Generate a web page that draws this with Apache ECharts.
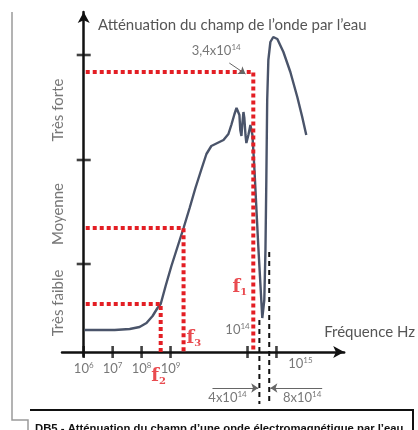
<!DOCTYPE html>
<html>
<head>
<meta charset="utf-8">
<script src="https://cdn.jsdelivr.net/npm/echarts@6/dist/echarts.min.js"></script>
<style>
  html, body { margin: 0; padding: 0; background: #fff; }
  #chart { width: 418px; height: 430px; }
</style>
</head>
<body>
<div id="chart"></div>
<script>
// axe des fréquences coupé : position en décades depuis 10^6 (10^9 -> 10^14 raccourci)
const tickValues = [0, 1, 2, 3, 5.66, 6.66];
const tickExponents = [6, 7, 8, 9, 14, 15];

// niveaux d'atténuation (unité arbitraire, 0 = axe des fréquences)
const levelTicks = [88, 192, 297];
const levelNames = ['Très faible', 'Moyenne', 'Très forte'];
const levelCenters = [49, 138, 242];

const freqPos = [0.03, 0.55, 1.07, 1.59, 1.93, 2.17, 2.38, 2.55, 2.66, 2.83, 3.03, 3.24, 3.45, 3.66, 3.86,
  4.07, 4.24, 4.41, 4.62, 4.83, 5.00, 5.10, 5.21, 5.28, 5.34, 5.38, 5.41, 5.45, 5.48, 5.52, 5.55, 5.59,
  5.62, 5.69, 5.76, 5.83, 5.90, 6.03, 6.17, 6.24, 6.28, 6.31, 6.34, 6.38, 6.45, 6.55, 6.69, 6.90, 7.14,
  7.38, 7.55, 7.69];
const attenuation = [22, 22, 22, 23, 25, 29, 36, 44, 48, 66, 86, 105, 124, 144, 164,
  183, 198, 206, 209, 212, 218, 227, 238, 244, 244, 237, 222, 216, 228, 240, 234, 217,
  209, 217, 227, 217, 182, 107, 34, 52, 102, 172, 252, 292, 310, 315, 313, 300, 280,
  255, 235, 217];

// fréquences repérées f2, f3, f1 et niveau correspondant
const guideNames = ['2', '3', '1'];
const guidePos = [2.66, 3.45, 5.86];
const guideLevel = [48, 124, 280];

// limites de la bande 4x10^14 - 8x10^14
const bandPos = [6.07, 6.41];
const bandTop = [32, 100];
const bandLabels = ['4', '8'];

const gray = '#555';
const red = '#e31e24';
const rich = {
  b: { fontSize: 13, color: gray, fontFamily: 'Lato', lineHeight: 16 },
  s: { fontSize: 8, color: gray, fontFamily: 'Lato', verticalAlign: 'top', lineHeight: 10 },
  f: { fontSize: 18, color: red, fontFamily: 'DejaVu Serif', fontWeight: 'bold', lineHeight: 20 },
  i: { fontSize: 10, color: red, fontFamily: 'DejaVu Serif', fontWeight: 'bold', verticalAlign: 'bottom', lineHeight: 12 }
};

const chart = echarts.init(document.getElementById('chart'));

const guides = guidePos.map((p, i) => ({
  type: 'line', z: 5, symbol: 'none', silent: true, clip: false,
  data: [[0.07, guideLevel[i]], [p, guideLevel[i]], [p, 0]],
  lineStyle: { color: red, width: 4, type: [4, 3], cap: 'butt' }
}));

const bands = bandPos.map((p, i) => ({
  type: 'line', z: 4, symbol: 'none', silent: true, clip: false,
  data: [[p, bandTop[i]], [p, -52]],
  lineStyle: { color: '#111', width: 2, type: [5, 4] }
}));

// étiquettes des graduations
const tickLabelData = tickValues.map((v, i) => {
  let label = { position: 'bottom', distance: 9 };
  if (tickExponents[i] === 14) label = { position: 'top', distance: 14, offset: [-10, 0] };
  if (tickExponents[i] === 15) label = { position: 'bottom', distance: 4, offset: [24, 0] };
  return { value: [v, 0], tag: '{b|10}{s|' + tickExponents[i] + '}', label: label };
});

// étiquettes f1 f2 f3
const guideLabelData = guidePos.map((p, i) => {
  let label = { position: 'bottom', distance: 14, offset: [-2, 0] };
  let v = 0;
  if (guideNames[i] === '3') { label = { position: 'right', distance: 3 }; v = 14; }
  if (guideNames[i] === '1') { label = { position: 'left', distance: 6 }; v = 65; }
  return { value: [p, v], tag: '{f|f}{i|' + guideNames[i] + '}', label: label };
});

const option = {
  animation: false,
  title: {
    text: 'Atténuation du champ de l’onde par l’eau',
    left: 93, top: 13,
    textStyle: { fontSize: 15, fontWeight: 'normal', color: gray, fontFamily: 'Lato' }
  },
  grid: { left: 62, top: 12, width: 283, height: 344 },
  xAxis: {
    type: 'value', min: -0.75, max: 9,
    name: 'Fréquence Hz', nameLocation: 'end', nameGap: -20,
    nameTextStyle: { fontSize: 15, color: gray, fontFamily: 'Lato', align: 'left', verticalAlign: 'bottom', padding: [0, 0, 12, 0] },
    axisLine: { onZero: true, symbol: ['none', 'arrow'], symbolSize: [9, 11], lineStyle: { color: '#111', width: 2.5 } },
    axisTick: { show: false }, axisLabel: { show: false }, splitLine: { show: false }
  },
  yAxis: {
    type: 'value', min: -4, max: 340,
    axisLine: { onZero: true, symbol: ['none', 'arrow'], symbolSize: [9, 11], lineStyle: { color: '#111', width: 2.5 } },
    axisTick: { show: false }, axisLabel: { show: false }, splitLine: { show: false }
  },
  graphic: [
    { type: 'polyline', shape: { points: [[12, 12], [12, 420], [28, 420], [28, 430]] }, style: { stroke: '#9a9a9a', lineWidth: 1.5, fill: null } },
    { type: 'polyline', shape: { points: [[30, 410], [413, 410], [413, 430]] }, style: { stroke: '#111', lineWidth: 2, fill: null } },
    { type: 'text', left: 35, top: 423, style: { text: 'DB5 - Atténuation du champ d’une onde électromagnétique par l’eau', font: 'bold 11.3px "Liberation Sans"', fill: '#111' } }
  ],
  series: [
    {
      type: 'line', z: 3, symbol: 'none', silent: true,
      data: freqPos.map((p, i) => [p, attenuation[i]]),
      lineStyle: { color: '#4a546a', width: 2.4 }
    },
    ...bands,
    ...guides,
    {
      // graduations croisant les axes
      type: 'scatter', z: 6, silent: true, clip: false,
      symbol: 'rect', itemStyle: { color: '#111' },
      data: tickValues.map(v => ({ value: [v, 0], symbolSize: [2.6, 12] }))
        .concat(levelTicks.map(v => ({ value: [0, v], symbolSize: [14, 2.6] })))
    },
    {
      type: 'scatter', z: 7, silent: true, clip: false, symbolSize: 0,
      data: levelNames.map((n, i) => ({ value: [-0.9, levelCenters[i]], name: n })),
      label: { show: true, position: 'inside', rotate: 90, formatter: p => p.name, fontSize: 15, color: gray, fontFamily: 'Lato' }
    },
    {
      type: 'scatter', z: 7, silent: true, clip: false, symbolSize: 0,
      data: tickLabelData.concat(guideLabelData),
      label: { show: true, formatter: p => p.data.tag, rich: rich }
    },
    {
      // valeurs annotées
      type: 'scatter', z: 7, silent: true, clip: false, symbolSize: 0,
      data: [
        { value: [4.58, 301], tag: '{b|3,4x10}{s|14}' },
        { value: [4.97, -46], tag: '{b|' + bandLabels[0] + 'x10}{s|14}' },
        { value: [7.55, -46], tag: '{b|' + bandLabels[1] + 'x10}{s|14}' }
      ],
      label: { show: true, position: 'inside', formatter: p => p.data.tag, rich: rich }
    },
    {
      type: 'lines', coordinateSystem: 'cartesian2d', z: 7, silent: true, clip: false,
      symbol: ['none', 'arrow'], symbolSize: 7,
      lineStyle: { color: '#666', width: 1, opacity: 1 },
      data: [
        { coords: [[5.03, 289], [5.59, 278]] },
        { coords: [[4.45, -36], [bandPos[0] - 0.04, -36]] },
        { coords: [[8.24, -36], [bandPos[1] + 0.04, -36]] }
      ]
    }
  ]
};

chart.setOption(option);
window.onresize = function () {
  chart.resize();
};
</script>
</body>
</html>
